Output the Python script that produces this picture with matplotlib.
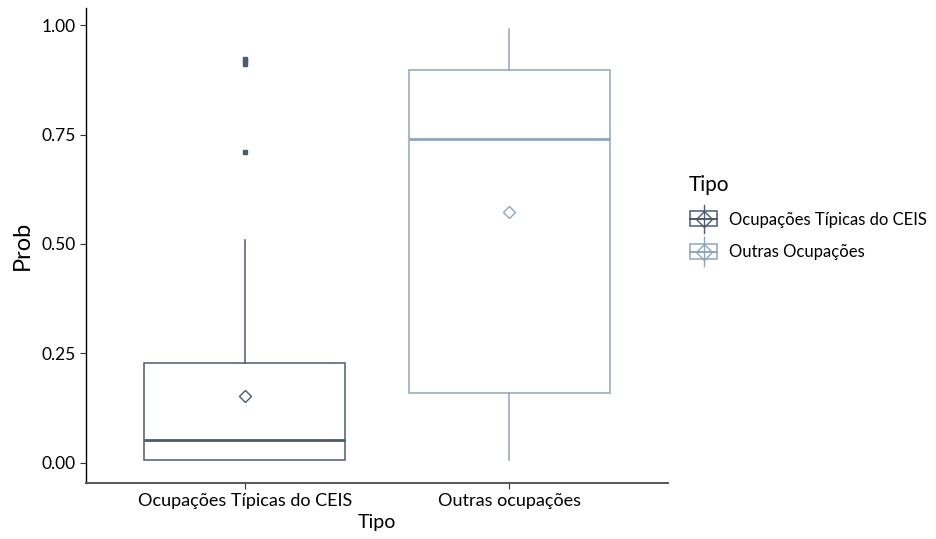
import matplotlib
matplotlib.use("Agg")
import matplotlib.pyplot as plt
from matplotlib.legend_handler import HandlerBase
from matplotlib.patches import Rectangle
from matplotlib.lines import Line2D

plt.rcParams['font.family'] = ['Lato', 'DejaVu Sans']

# data
categories = ["Ocupações Típicas do CEIS", "Outras ocupações"]
legend_labels = ["Ocupações Típicas do CEIS", "Outras Ocupações"]
q1 = [0.006, 0.159]
med = [0.053, 0.739]
q3 = [0.228, 0.897]
whislo = [0.006, 0.006]
whishi = [0.510, 0.990]
means = [0.153, 0.573]
fliers = [[0.922, 0.918, 0.912, 0.709], []]

colors = ["#4b5b70", "#8ea6bd"]


class BoxKeyHandler(HandlerBase):
	"""Legend key drawn like a small boxplot with the mean diamond."""

	def __init__(self, color):
		super().__init__()
		self.color = color

	def create_artists(self, legend, orig_handle, xdescent, ydescent,
			width, height, fontsize, trans):
		c = self.color
		w = width * 0.9
		x0 = -xdescent + (width - w) / 2
		y0 = -ydescent
		cx = x0 + w / 2
		arts = [
			Rectangle((x0, y0 + height * 0.0), w, height * 1.0,
				facecolor="white", edgecolor=c, lw=1.1),
			Line2D([cx, cx], [y0 - height * 0.45, y0 + height * 1.45], color=c, lw=1.0),
			Line2D([x0, x0 + w], [y0 + height * 0.5] * 2, color=c, lw=1.4),
			Line2D([cx], [y0 + height * 0.5], marker="D", markersize=8,
				markerfacecolor="none", markeredgecolor=c, markeredgewidth=1.0),
		]
		for a in arts:
			a.set_transform(trans)
		return arts


fig = plt.figure(figsize=(9.37, 5.39), dpi=100)
ax = fig.add_axes([86 / 937, (539 - 483) / 539, (668 - 86) / 937, (483 - 8) / 539])

positions = [1, 2]
for i in range(2):
	stats = [dict(med=med[i], q1=q1[i], q3=q3[i], whislo=whislo[i],
		whishi=whishi[i], mean=means[i], fliers=fliers[i])]
	c = colors[i]
	ax.bxp(stats, positions=[positions[i]], widths=0.76, showmeans=True,
		showcaps=False, patch_artist=True,
		boxprops=dict(facecolor="white", edgecolor=c, lw=1.1),
		medianprops=dict(color=c, lw=2.0),
		whiskerprops=dict(color=c, lw=1.1),
		meanprops=dict(marker="D", markersize=6, markerfacecolor="white",
			markeredgecolor=c, markeredgewidth=1.0),
		flierprops=dict(marker="s", markersize=3, markerfacecolor=c,
			markeredgecolor=c))

ax.set_xlim(0.4, 2.6)
ax.set_ylim(-0.046, 1.039)
ax.set_xticks(positions)
ax.set_xticklabels(categories, fontsize=13)
ax.set_yticks([0, 0.25, 0.5, 0.75, 1.0])
ax.set_yticklabels(["0.00", "0.25", "0.50", "0.75", "1.00"], fontsize=12.5)
ax.tick_params(axis="both", length=4, width=0.8, colors="#333333", labelcolor="black")
ax.set_xlabel("Tipo", fontsize=14, labelpad=3)
ax.set_ylabel("Prob", fontsize=17, labelpad=6)

for s in ["top", "right"]:
	ax.spines[s].set_visible(False)
ax.spines["left"].set_color("black")
ax.spines["left"].set_linewidth(1.0)
ax.spines["bottom"].set_color("#555555")
ax.spines["bottom"].set_linewidth(1.4)

handles = [Rectangle((0, 0), 1, 1), Rectangle((0, 0), 1, 1)]
leg = fig.legend(handles, legend_labels, title="Tipo",
	handler_map={handles[0]: BoxKeyHandler(colors[0]), handles[1]: BoxKeyHandler(colors[1])},
	loc="upper left", bbox_to_anchor=(682 / 937, 1 - 168 / 539),
	frameon=False, fontsize=12.0, title_fontsize=15,
	handlelength=1.8, handleheight=1.0, handletextpad=0.6, labelspacing=1.0,
	borderaxespad=0.0)
leg._legend_box.align = "left"

fig.savefig("out.png", dpi=100)
